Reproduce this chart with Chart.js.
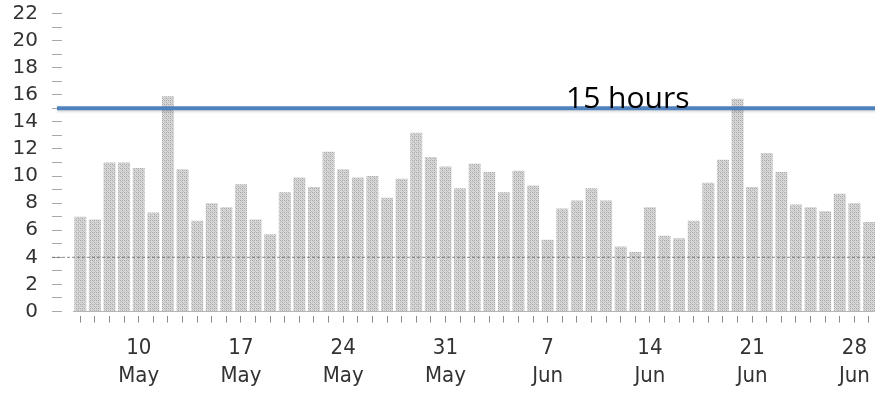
<!DOCTYPE html>
<html>
<head>
<meta charset="utf-8">
<script src="https://cdn.jsdelivr.net/npm/chart.js@4/dist/chart.umd.min.js"></script>
<style>
  html, body { margin: 0; padding: 0; background: #fff; overflow: hidden; }
  #wrap { width: 880px; height: 393px; position: relative; }
</style>
</head>
<body>
<div id="wrap"><canvas id="myChart"></canvas></div>
<script>
'use strict';

// one bar per day, 6 May - 29 Jun
let days = [
  '6 May','7 May','8 May','9 May','10 May','11 May','12 May','13 May','14 May','15 May',
  '16 May','17 May','18 May','19 May','20 May','21 May','22 May','23 May','24 May','25 May',
  '26 May','27 May','28 May','29 May','30 May','31 May',
  '1 Jun','2 Jun','3 Jun','4 Jun','5 Jun','6 Jun','7 Jun','8 Jun','9 Jun','10 Jun',
  '11 Jun','12 Jun','13 Jun','14 Jun','15 Jun','16 Jun','17 Jun','18 Jun','19 Jun','20 Jun',
  '21 Jun','22 Jun','23 Jun','24 Jun','25 Jun','26 Jun','27 Jun','28 Jun','29 Jun'
];

let hours = [
  7.0, 6.8, 11.0, 11.0, 10.6, 7.3, 15.9, 10.5, 6.7, 8.0,
  7.7, 9.4, 6.8, 5.7, 8.8, 9.9, 9.2, 11.8, 10.5, 9.9,
  10.0, 8.4, 9.8, 13.2, 11.4, 10.7, 9.1, 10.9, 10.3, 8.8,
  10.4, 9.3, 5.3, 7.6, 8.2, 9.1, 8.2, 4.8, 4.4, 7.7,
  5.6, 5.4, 6.7, 9.5, 11.2, 15.7, 9.2, 11.7, 10.3, 7.9,
  7.7, 7.4, 8.7, 8.0, 6.6
];

let tickLabels = ['10 May','17 May','24 May','31 May','7 Jun','14 Jun','21 Jun','28 Jun'];
let yTicks = [0, 2, 4, 6, 8, 10, 12, 14, 16, 18, 20, 22];

let targetHours = 15;
let targetText = '15 hours';
let baselineHours = 4;

// stippled grey fill like the printed bars
function stipple () {
  const c = document.createElement( 'canvas' );
  c.width = 4;
  c.height = 4;
  const g = c.getContext( '2d' );
  g.fillStyle = '#d8d8d8';
  g.fillRect( 0, 0, 4, 4 );
  g.fillStyle = '#a9a9a9';
  g.fillRect( 0, 0, 1, 1 );
  g.fillRect( 2, 2, 1, 1 );
  g.fillRect( 2, 0, 1, 1 );
  g.fillStyle = '#c0c0c0';
  g.fillRect( 0, 2, 1, 1 );
  g.fillRect( 1, 1, 1, 1 );
  g.fillRect( 3, 3, 1, 1 );
  return g.createPattern( c, 'repeat' );
}

// the two horizontal guide lines and the "15 hours" note
let guideLines = {
  id: 'guideLines',
  afterDatasetsDraw ( chart ) {
    const ctx = chart.ctx;
    const y = chart.scales.y;
    const right = chart.width;

    ctx.save();
    let y4 = y.getPixelForValue( baselineHours );
    ctx.strokeStyle = 'rgba(90, 90, 90, 0.7)';
    ctx.lineWidth = 1;
    ctx.setLineDash( [ 3, 2 ] );
    ctx.beginPath();
    ctx.moveTo( 52, y4 );
    ctx.lineTo( right, y4 );
    ctx.stroke();
    ctx.restore();

    ctx.save();
    let y15 = y.getPixelForValue( targetHours );
    ctx.shadowColor = 'rgba(0, 0, 0, 0.12)';
    ctx.shadowBlur = 2;
    ctx.shadowOffsetY = 2;
    ctx.strokeStyle = '#4f81bd';
    ctx.lineWidth = 4;
    ctx.beginPath();
    ctx.moveTo( 57, y15 );
    ctx.lineTo( right, y15 );
    ctx.stroke();
    ctx.restore();

    ctx.save();
    ctx.font = '30px "Open Sans"';
    ctx.fillStyle = '#000';
    ctx.textBaseline = 'alphabetic';
    ctx.textAlign = 'left';
    ctx.fillText( targetText, 566, y15 );
    ctx.restore();
  }
};

let ctx = document.getElementById( 'myChart' ).getContext( '2d' );

let myChart = new Chart( ctx, {
  type: 'bar',
  data: {
    labels: days,
    datasets: [{
      label: 'Hours',
      data: hours,
      backgroundColor: stipple(),
      borderWidth: 0,
      barPercentage: 0.82,
      categoryPercentage: 1
    }]
  },
  options: {
    responsive: true,
    maintainAspectRatio: false,
    animation: false,
    layout: {
      padding: { top: 13.5, right: 2, left: 0, bottom: 0 }
    },
    plugins: {
      legend: { display: false },
      tooltip: { enabled: false }
    },
    scales: {
      x: {
        offset: true,
        grid: {
          offset: false,
          drawOnChartArea: false,
          drawTicks: true,
          tickLength: 11,
          tickBorderDash: [ 0, 4, 7, 0 ],
          tickColor: '#8a8a8a'
        },
        border: { display: true, color: '#b5b5b5', dash: [ 1, 1 ] },
        ticks: {
          autoSkip: false,
          maxRotation: 0,
          padding: 11,
          color: '#333',
          font: { family: '"DejaVu Sans Condensed", "DejaVu Sans"', size: 22, lineHeight: 1.3 },
          callback: function ( value ) {
            const name = days[value];
            if ( tickLabels.includes( name ) ) {
              return name.split( ' ' );
            }
            return '';
          }
        },
        afterFit: function ( scale ) {
          scale.height = 81.5;
        }
      },
      y: {
        min: 0,
        max: 22,
        ticks: {
          stepSize: 1,
          autoSkip: false,
          padding: 14,
          color: '#333',
          font: { family: '"DejaVu Sans"', size: 20 },
          callback: function ( value ) {
            return yTicks.includes( value ) ? value : '';
          }
        },
        grid: {
          drawOnChartArea: false,
          drawTicks: true,
          tickLength: 21,
          tickBorderDash: [ 10, 11 ],
          tickColor: '#a8a8a8'
        },
        border: { display: false },
        afterFit: function ( scale ) {
          scale.width = 73;
          scale.paddingTop = 0;
          scale.paddingBottom = 0;
        }
      }
    }
  },
  plugins: [ guideLines ]
} );
</script>
</body>
</html>
